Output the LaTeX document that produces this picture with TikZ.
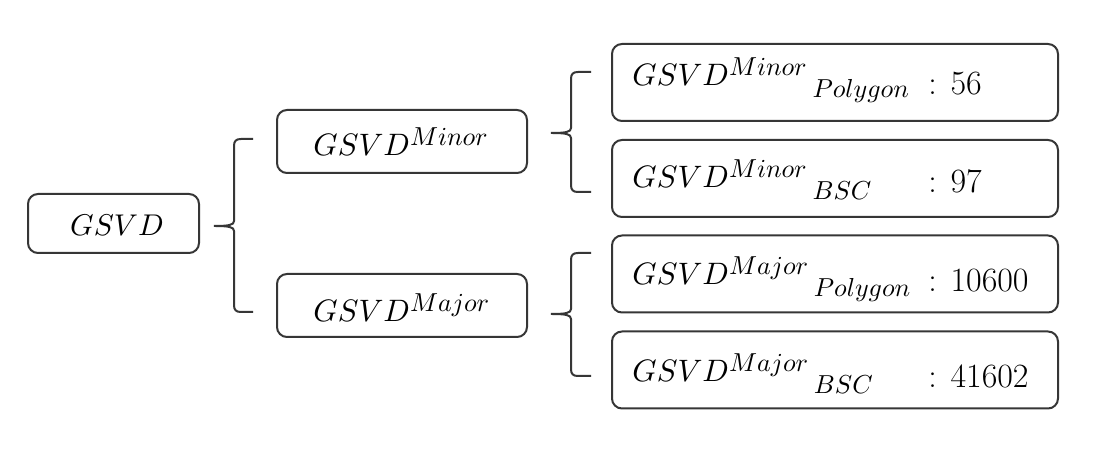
\documentclass[tikz,border=0pt]{standalone}
\DeclareFontShape{OML}{cmm}{m}{it}{<->cmmi10}{\skewchar\font'177}
\DeclareMathSizes{15.5}{15.5}{13}{9}
\DeclareMathSizes{15}{15}{12}{9}
\definecolor{edge}{HTML}{363636}
\newcommand{\gsub}[1]{\mkern3mu\lower6pt\hbox{$\scriptstyle #1$}}
\newcommand{\mybrace}[5]{%
  \draw[bracestyle] (#5,#3) -- ({#1+27},#3)
    .. controls ({#1+22},#3) and ({#1+20},{#3+2}) .. ({#1+20},{#3+7})
    -- ({#1+20},{#2-5})
    .. controls ({#1+20},{#2-1}) and ({#1+15},#2) .. (#1,#2)
    .. controls ({#1+15},#2) and ({#1+20},{#2+1}) .. ({#1+20},{#2+5})
    -- ({#1+20},{#4-7})
    .. controls ({#1+20},{#4-2}) and ({#1+22},#4) .. ({#1+27},#4)
    -- (#5,#4);}
\begin{document}
\begin{tikzpicture}[x=0.5pt,y=-0.5pt,
  box/.style={draw=edge,line width=1pt,rounded corners=5pt,inner sep=0pt},
  small/.style={box,minimum width=85.5pt,minimum height=29.5pt},
  mid/.style={box,minimum width=125pt,minimum height=31.5pt},
  leaf/.style={box,minimum width=223pt,minimum height=38.5pt},
  lbl/.style={anchor=base west,inner sep=0pt,font=\fontsize{15.5}{18}\selectfont},
  val/.style={anchor=base west,inner sep=0pt,font=\fontsize{17}{20}\selectfont},
  bracestyle/.style={draw=edge,line width=1pt}]
\useasboundingbox[fill=white] (0,0) rectangle (1105,458);
% boxes
\node[small] (root) at (113.5,223.5) {};
\node[mid] (minor) at (402,141.5) {};
\node[mid] (major) at (402,305.5) {};
\node[leaf] (l1) at (835,82.5) {};
\node[leaf] (l2) at (835,178.5) {};
\node[leaf] (l3) at (835,274) {};
\node[leaf] (l4) at (835,370) {};
% texts
\node[lbl,anchor=base,font=\fontsize{15}{18}\selectfont] (troot) at (117,236) {$GSVD$};
\node[lbl] (tminor) at (313,156) {$GSVD^{Minor}$};
\node[lbl] (tmajor) at (313,322) {$GSVD^{Major}$};
\node[lbl] (t1) at (632,86) {$GSVD^{Minor}\gsub{Polygon}$};
\node[lbl] (t2) at (632,188) {$GSVD^{Minor}\gsub{BSC}$};
\node[lbl] (t3) at (632,285) {$GSVD^{Major}\gsub{Polygon}$};
\node[lbl] (t4) at (632,382) {$GSVD^{Major}\gsub{BSC}$};
\node[val] (v1) at (928,95) {: 56};
\node[val] (v2) at (928,193) {: 97};
\node[val] (v3) at (928,292) {: 10600};
\node[val] (v4) at (928,388) {: 41602};
% braces
\mybrace{214}{226}{139}{312}{253}
\mybrace{551}{133}{72}{192}{591}
\mybrace{551}{314}{253}{376}{591}
\end{tikzpicture}
\end{document}
